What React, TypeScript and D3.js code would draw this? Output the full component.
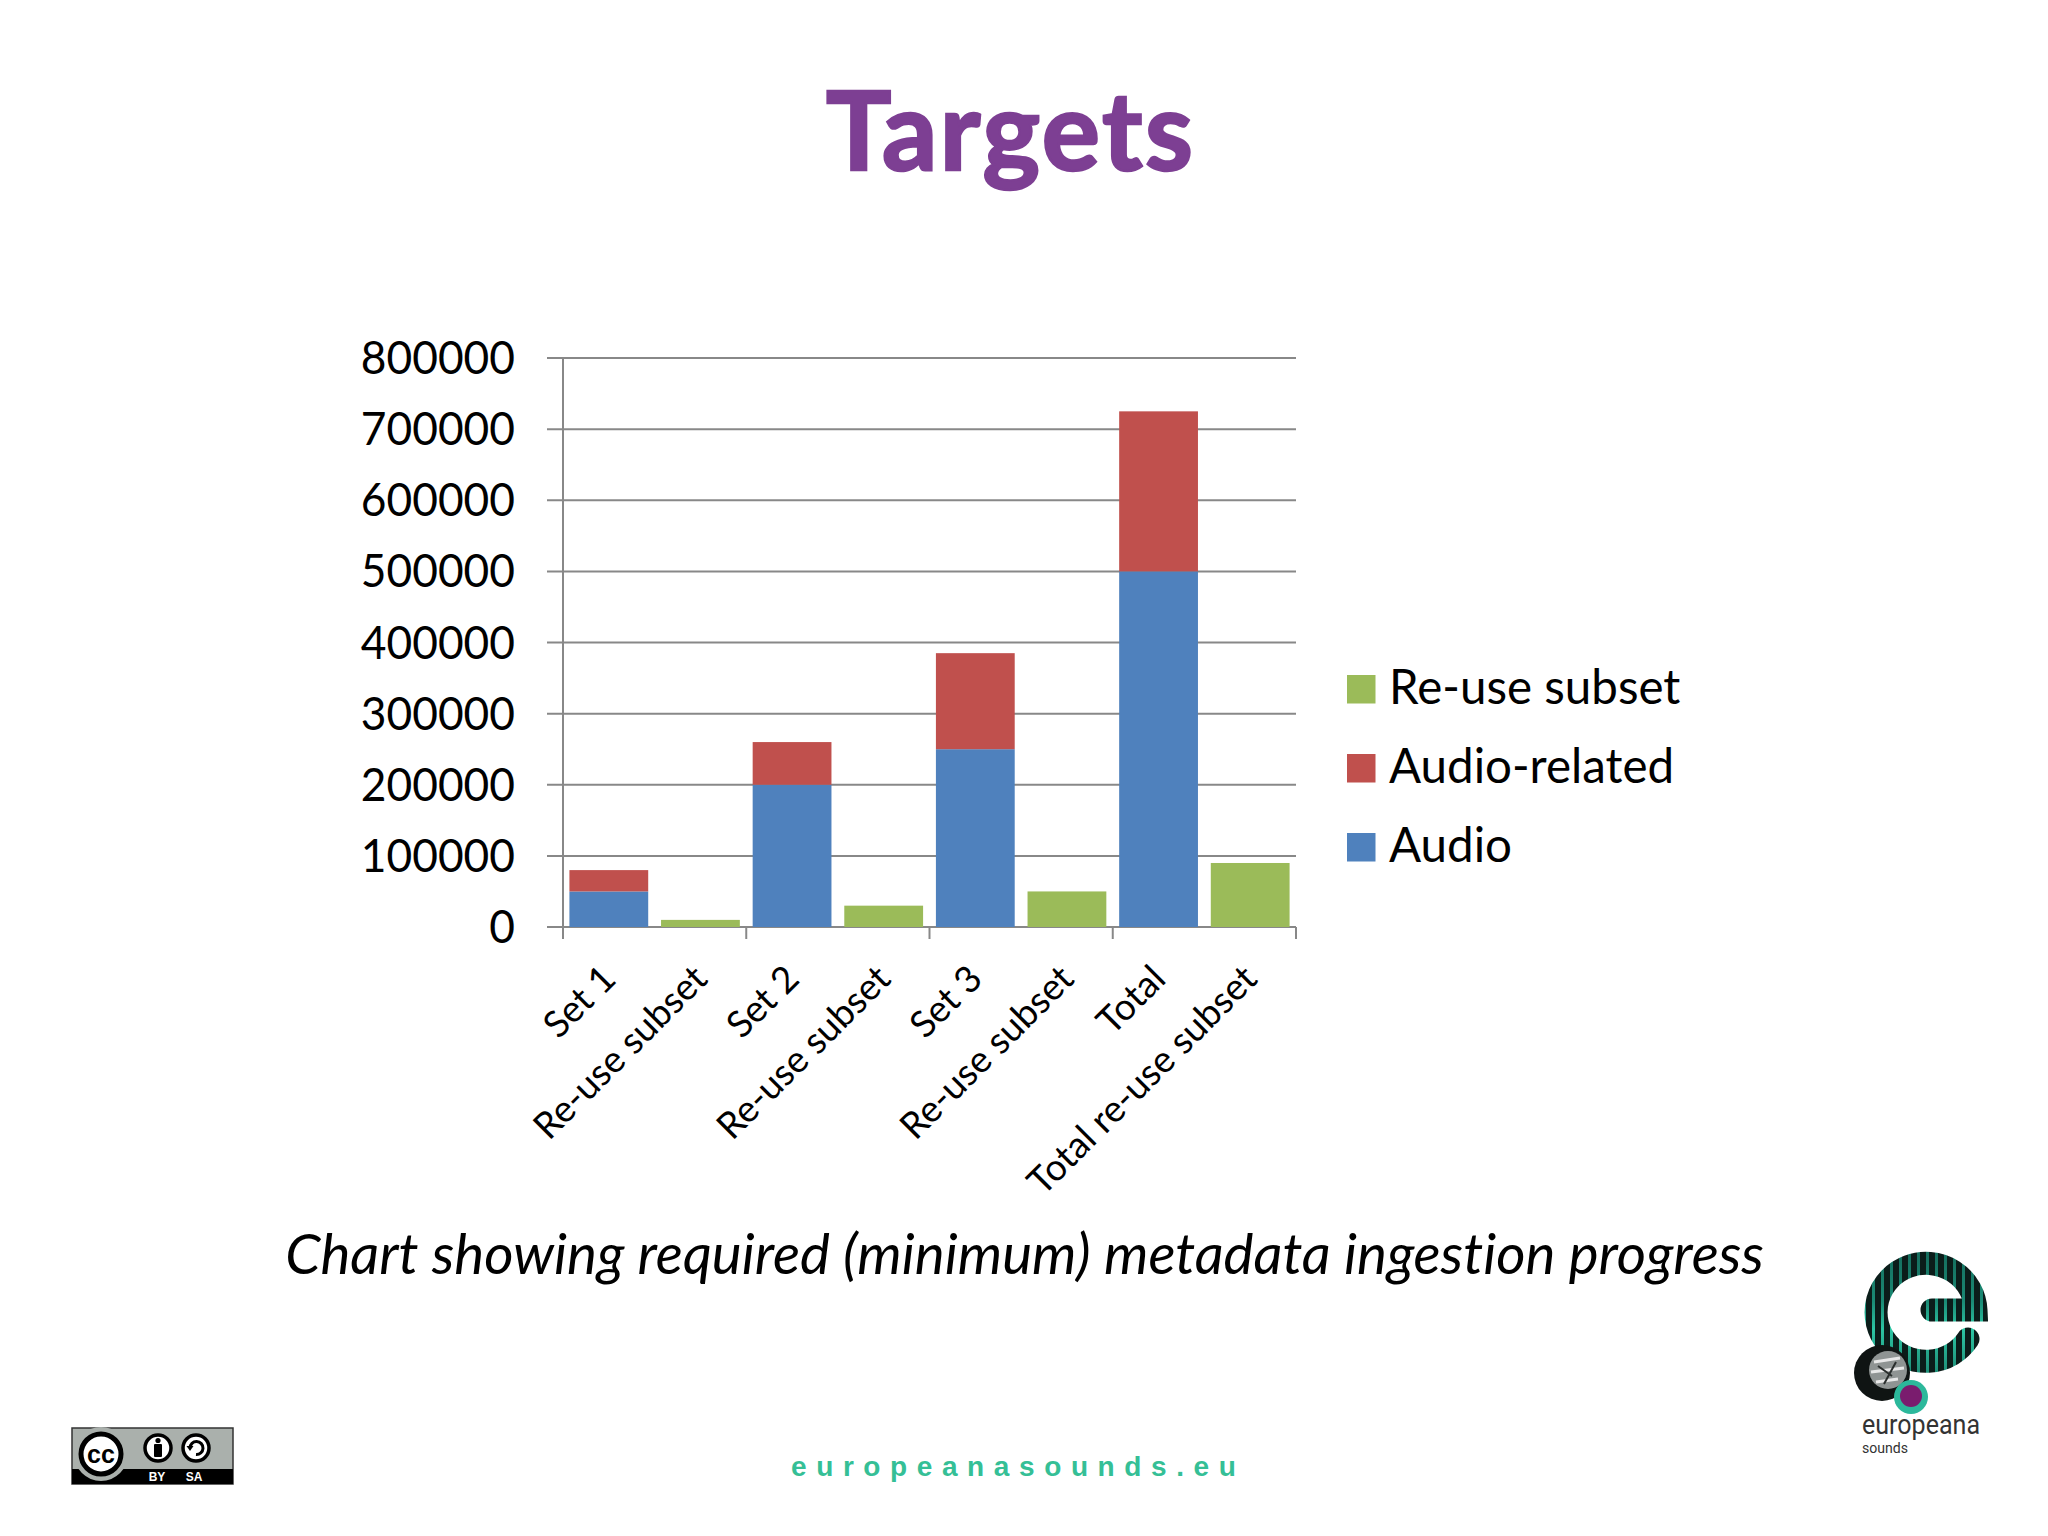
import React from 'react';
import * as d3 from 'd3';

const categories = ['Set 1', 'Re-use subset', 'Set 2', 'Re-use subset ', 'Set 3', 'Re-use subset  ', 'Total', 'Total re-use subset'];
const audio = [50000, 0, 200000, 0, 250000, 0, 500000, 0];
const audioRelated = [30000, 0, 60000, 0, 135000, 0, 225000, 0];
const reuseSubset = [0, 10000, 0, 30000, 0, 50000, 0, 90000];

const seriesNames = ['Audio', 'Audio-related', 'Re-use subset'];
const seriesColors = ['#4F81BD', '#C0504D', '#9BBB59'];
const legendOrder = ['Re-use subset', 'Audio-related', 'Audio'];
const yTicks = [0, 100000, 200000, 300000, 400000, 500000, 600000, 700000, 800000];

const WIDTH = 2048;
const HEIGHT = 1536;
const plot = { left: 563, right: 1296, top: 358, bottom: 927 };
const axisColor = '#888888';
const font = 'Lato, sans-serif';

const rows = categories.map((c, i) => ({
  category: c,
  Audio: audio[i],
  'Audio-related': audioRelated[i],
  'Re-use subset': reuseSubset[i],
}));

const CCBadge = () => (
  <g>
    <rect x={72} y={1428} width={161} height={56} fill="#aab0ac" stroke="#333" strokeWidth={1.5} />
    <rect x={72} y={1469} width={161} height={15} fill="#000" />
    <circle cx={101} cy={1454} r={27} fill="#aab0ac" />
    <circle cx={101} cy={1454} r={20} fill="#fff" stroke="#000" strokeWidth={5} />
    <text x={101} y={1463} textAnchor="middle" fontFamily="Liberation Sans" fontWeight="bold" fontSize={25} fill="#000">cc</text>
    <circle cx={158} cy={1448} r={13} fill="#fff" stroke="#000" strokeWidth={3.5} />
    <circle cx={158} cy={1440.5} r={2.6} fill="#000" />
    <rect x={154} y={1444} width={8} height={13} rx={1} fill="#000" />
    <circle cx={196} cy={1448} r={13} fill="#fff" stroke="#000" strokeWidth={3.5} />
    <path d="M190 1448 A6.5 6.5 0 1 1 196 1454.5" fill="none" stroke="#000" strokeWidth={3} />
    <path d="M186.5 1446 L193.5 1446 L190 1451 Z" fill="#000" />
    <text x={157} y={1481} textAnchor="middle" fontFamily="Liberation Sans" fontWeight="bold" fontSize={12} fill="#fff">BY</text>
    <text x={194} y={1481} textAnchor="middle" fontFamily="Liberation Sans" fontWeight="bold" fontSize={12} fill="#fff">SA</text>
  </g>
);

const Logo = () => (
  <g>
    <defs>
      <linearGradient id="logoFade" x1="0" y1="0" x2="0" y2="1">
        <stop offset="0" stopColor="#14695a" />
        <stop offset="0.4" stopColor="#1a8a74" />
        <stop offset="0.6" stopColor="#2cc5a3" />
        <stop offset="1" stopColor="#1a7f6b" />
      </linearGradient>
      <pattern id="logoStripes" x={1800} y={1245} width={9} height={140} patternUnits="userSpaceOnUse">
        <rect width={9} height={140} fill="#0b1d1a" />
        <rect width={3} height={140} fill="url(#logoFade)" />
      </pattern>
    </defs>
    <path
      d="M1932 1310 L1976 1310 A50 49 0 1 0 1968 1339"
      fill="none"
      stroke="url(#logoStripes)"
      strokeWidth={23}
      strokeLinecap="round"
    />
    <circle cx={1882} cy={1373} r={28} fill="#0f1413" />
    <circle cx={1888} cy={1370} r={19} fill="#8f9493" />
    <path d="M1874 1362 L1900 1358 M1871 1372 L1904 1368 M1876 1382 L1898 1379" stroke="#e8e8e8" strokeWidth={3} />
    <path d="M1878 1366 L1892 1376 M1896 1362 L1884 1384" stroke="#2b2f2e" strokeWidth={2} />
    <circle cx={1911} cy={1397} r={17} fill="#2cb89b" />
    <circle cx={1911} cy={1396} r={11} fill="#7a1c6e" />
    <text x={1862} y={1434} fontFamily="Roboto" fontSize={27} fill="#333" textLength={118} lengthAdjust="spacingAndGlyphs">europeana</text>
    <text x={1862} y={1453} fontFamily="Roboto" fontSize={15} fill="#333" textLength={46} lengthAdjust="spacingAndGlyphs">sounds</text>
  </g>
);

export default function App() {
  const x = d3.scaleBand<string>()
    .domain(categories)
    .range([plot.left, plot.right])
    .paddingInner(0.14)
    .paddingOuter(0.07);

  const y = d3.scaleLinear().domain([0, 800000]).range([plot.bottom, plot.top]);

  const stacked = d3.stack<any>().keys(seriesNames)(rows);
  const step = x.step();

  return (
    <svg
      width={WIDTH}
      height={HEIGHT}
      viewBox={`0 0 ${WIDTH} ${HEIGHT}`}
      style={{ position: 'absolute', left: 0, top: 0, background: '#fff', fontVariantLigatures: 'none' }}
    >
      <text
        x={826}
        y={170}
        fontFamily={font}
        fontWeight="bold"
        fontSize={109}
        fill="#7D3F93"
        stroke="#7D3F93"
        strokeWidth={2.5}
        textLength={367}
      >
        Targets
      </text>

      {/* gridlines + y labels */}
      {yTicks.map(t => (
        <g key={t}>
          <line x1={plot.left - 16} x2={plot.right} y1={y(t)} y2={y(t)} stroke={axisColor} strokeWidth={2} />
          <text
            x={515}
            y={y(t) + 16}
            textAnchor="end"
            fontFamily={font}
            fontSize={46}
            fill="#000"
            textLength={String(t).length * 25.7}
            lengthAdjust="spacingAndGlyphs"
          >
            {t}
          </text>
        </g>
      ))}
      <line x1={plot.left} x2={plot.left} y1={plot.top} y2={plot.bottom + 12} stroke={axisColor} strokeWidth={2} />
      {d3.range(2, categories.length + 1, 2).map(i => (
        <line
          key={i}
          x1={plot.left + i * step}
          x2={plot.left + i * step}
          y1={plot.bottom}
          y2={plot.bottom + 12}
          stroke={axisColor}
          strokeWidth={2}
        />
      ))}

      {/* stacked bars */}
      {stacked.map((s, si) => (
        <g key={s.key} fill={seriesColors[si]}>
          {s.map((d, i) => (
            <rect
              key={i}
              x={x(categories[i])}
              width={x.bandwidth()}
              y={y(d[1])}
              height={y(d[0]) - y(d[1])}
            />
          ))}
        </g>
      ))}

      {/* rotated category labels */}
      {categories.map(c => (
        <text
          key={c}
          transform={`translate(${x(c)! + x.bandwidth() / 2 + 9},981) rotate(-45)`}
          textAnchor="end"
          fontFamily={font}
          fontSize={37}
          fill="#000"
        >
          {c.trim()}
        </text>
      ))}

      {/* legend */}
      {legendOrder.map((name, i) => (
        <g key={name}>
          <rect
            x={1347}
            y={675 + i * 79}
            width={28.5}
            height={28.5}
            fill={seriesColors[seriesNames.indexOf(name)]}
          />
          <text x={1389} y={704 + i * 79} fontFamily={font} fontSize={47.5} fill="#000">{name}</text>
        </g>
      ))}

      <text x={1024.5} y={1274} textAnchor="middle" fontFamily={font} fontStyle="italic" fontSize={56.5} fill="#000">
        Chart showing required (minimum) metadata ingestion progress
      </text>

      <text x={791} y={1476} fontFamily="Liberation Sans" fontWeight="bold" fontSize={28} letterSpacing={9.6} fill="#35BF96">
        europeanasounds.eu
      </text>

      <CCBadge />
      <Logo />
    </svg>
  );
}
